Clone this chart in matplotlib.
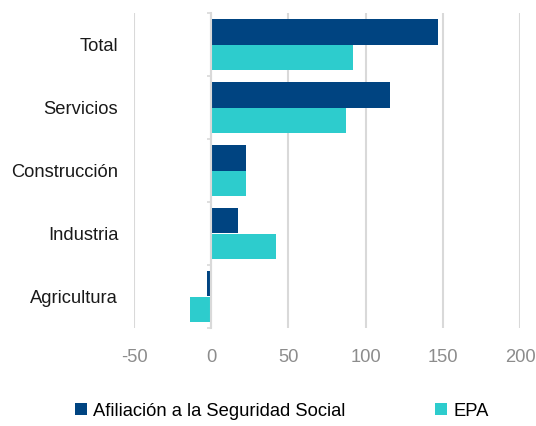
import matplotlib.pyplot as plt
import numpy as np
from matplotlib.ticker import FixedLocator

plt.rcParams['font.family'] = ['Liberation Sans', 'DejaVu Sans']

# data
categories = ["Total", "Servicios", "Construcción", "Industria", "Agricultura"]
afiliacion = [147, 116, 22.5, 17.5, -3]
epa = [92, 87, 22.5, 42, -13.5]
xticks = [-50, 0, 50, 100, 150, 200]

dark = "#004481"
cyan = "#2DCCCD"
grid_col = "#D9D9D9"
fs = 13.2

fig = plt.figure(figsize=(5.36, 4.26), dpi=100)
ax = fig.add_axes([134 / 536, 1 - 328 / 426, (520 - 134) / 536, (328 - 13) / 426])

y = np.arange(len(categories))
h = 0.4
ax.barh(y - h / 2, afiliacion, height=h, color=dark, label="Afiliación a la Seguridad Social")
ax.barh(y + h / 2, epa, height=h, color=cyan, label="EPA")

ax.set_xlim(-50, 200)
ax.set_ylim(len(categories) - 0.5, -0.5)
ax.set_xticks(xticks)
ax.set_xticklabels([str(v) for v in xticks])
ax.tick_params(axis="x", length=0, pad=15, labelsize=fs, labelcolor="#8C8C8C")

ax.set_yticks(y)
ax.set_yticklabels(categories)
ax.tick_params(axis="y", which="major", length=0, pad=67, labelsize=fs, labelcolor="#1A1A1A")
ax.yaxis.set_minor_locator(FixedLocator(np.arange(-0.5, len(categories), 1)))
ax.tick_params(axis="y", which="minor", length=3, color=grid_col, width=1.2)

ax.grid(axis="x", color=grid_col, linewidth=1.5)
ax.set_axisbelow(True)
for s in ["top", "right", "bottom"]:
    ax.spines[s].set_visible(False)
ax.spines["left"].set_position(("data", 0))
ax.spines["left"].set_color(grid_col)
ax.spines["left"].set_linewidth(1.5)

fig.legend(loc="lower center", bbox_to_anchor=(0.526, -0.024), ncol=2, frameon=False,
           fontsize=fs, handlelength=0.65, handleheight=0.65, handletextpad=0.35,
           columnspacing=4.9)

fig.savefig("out.png", dpi=100)
